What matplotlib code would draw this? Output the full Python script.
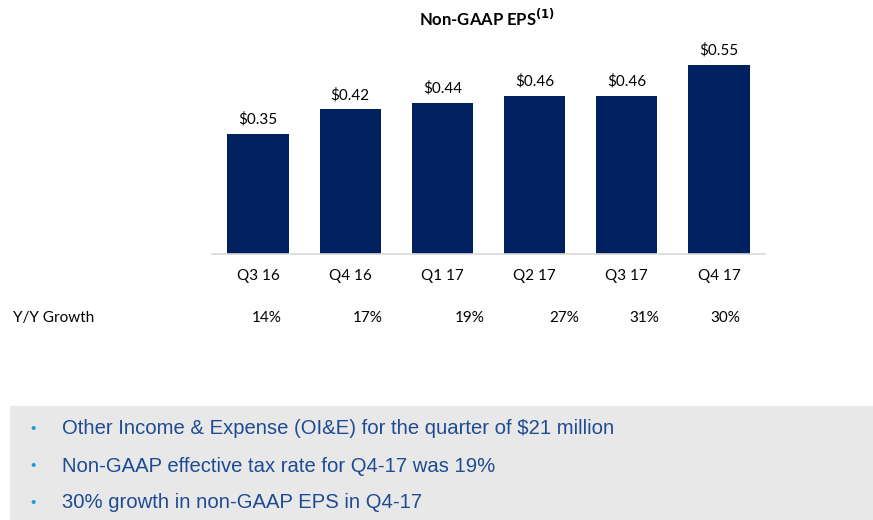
import matplotlib
matplotlib.use("Agg")
import matplotlib.pyplot as plt
from matplotlib.patches import Rectangle

quarters = ["Q3 16", "Q4 16", "Q1 17", "Q2 17", "Q3 17", "Q4 17"]
eps = [0.35, 0.42, 0.44, 0.46, 0.46, 0.55]
growth = ["14%", "17%", "19%", "27%", "31%", "30%"]
bullets = [
    "Other Income & Expense (OI&E) for the quarter of $21 million",
    "Non-GAAP effective tax rate for Q4-17 was 19%",
    "30% growth in non-GAAP EPS in Q4-17",
]

W, H = 873, 520
fig = plt.figure(figsize=(W / 100, H / 100), dpi=100)
main_font = ["Lato", "DejaVu Sans"]
narrow_font = ["Liberation Sans Narrow", "Liberation Sans", "DejaVu Sans"]

ax = fig.add_axes([212 / W, 1 - 254 / H, 553 / W, 214 / H])
x = list(range(len(quarters)))
ax.bar(x, eps, width=0.665, color="#002060")
ax.set_xlim(-0.5, len(quarters) - 0.5)
ax.set_ylim(0, 0.622)
for s in ["top", "right", "left"]:
    ax.spines[s].set_visible(False)
ax.spines["bottom"].set_color("#d9d9d9")
ax.spines["bottom"].set_linewidth(1.2)
ax.set_yticks([])
ax.set_xticks(x)
ax.set_xticklabels(quarters, fontfamily=main_font, fontsize=11, color="#000000")
ax.tick_params(axis="x", length=0, pad=11)
for xi, v in zip(x, eps):
    ax.annotate(f"${v:.2f}", (xi, v), xytext=(0, 5), textcoords="offset points",
                ha="center", va="bottom", fontfamily=main_font, fontsize=11)

fig.text(487 / W, 1 - 18 / H, r"Non-GAAP EPS$^{\mathbf{(1)}}$", ha="center", va="center",
         fontfamily=main_font, fontsize=12, fontweight="bold")

fig.text(13 / W, 1 - 318 / H, "Y/Y Growth", ha="left", va="center",
         fontfamily=main_font, fontsize=11)
gx = [267, 368, 470, 564, 644, 725]
for gxi, g in zip(gx, growth):
    fig.text(gxi / W, 1 - 318 / H, g, ha="center", va="center",
             fontfamily=main_font, fontsize=11)

fig.patches.append(Rectangle((10 / W, 0), 1 - 10 / W, (H - 406) / H,
                             transform=fig.transFigure, facecolor="#e8e8e8",
                             edgecolor="none", zorder=0))
ys = [429, 466, 503]
for yy, b in zip(ys, bullets):
    fig.text(33 / W, 1 - yy / H, "•", ha="center", va="center",
             color="#1f9ad6", fontsize=11, fontfamily=narrow_font)
    fig.text(62 / W, 1 - yy / H, b, ha="left", va="center",
             color="#1f4b94", fontsize=14.6, fontfamily=narrow_font)

fig.savefig("out.png", dpi=100)
